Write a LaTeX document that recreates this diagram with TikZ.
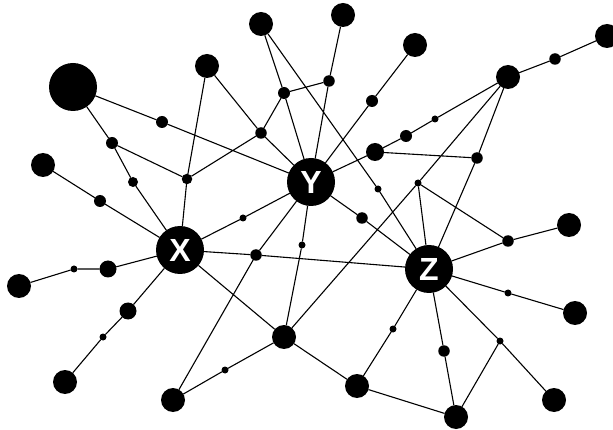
\documentclass[tikz,border=0pt]{standalone}
\usepackage{fontspec}
\setmainfont{Liberation Sans}
\newcommand{\hubtext}[1]{\fontsize{32}{32}\selectfont\bfseries #1}
\begin{document}
\begin{tikzpicture}[x=1pt,y=-1pt,
  dot/.style={circle,fill=black,inner sep=0pt,outer sep=0pt},
  hub/.style={dot,minimum size=48pt,text=white},
  huge/.style={dot,minimum size=48pt},
  large/.style={dot,minimum size=24pt},
  medium/.style={dot,minimum size=17pt},
  small/.style={dot,minimum size=11.5pt},
  tiny/.style={dot,minimum size=7pt},
  edge/.style={line width=1.1pt}]
\useasboundingbox (0,0) rectangle (613,430);
% hubs
\node[hub] (X) at (180,250) {\hubtext{X}};
\node[hub] (Y) at (311,182) {\hubtext{Y}};
\node[hub] (Z) at (429,269) {\hubtext{Z}};
% large nodes
\node[huge] (a) at (73,87) {};
\node[large] (b) at (207,66) {};
\node[large] (c) at (261,24) {};
\node[large] (d) at (43,165) {};
\node[large] (e) at (343,15) {};
\node[large] (f) at (415,45) {};
\node[large] (g) at (607,36) {};
\node[large] (h) at (508,77) {};
\node[medium,minimum size=18pt] (i) at (375,152) {};
\node[large] (j) at (19,286) {};
\node[large] (k) at (65,382) {};
\node[large] (l) at (173,400) {};
\node[large] (m) at (284,337) {};
\node[large] (n) at (357,386) {};
\node[large] (o) at (456,417) {};
\node[large] (p) at (554,400) {};
\node[large] (q) at (575,313) {};
\node[large] (r) at (569,225) {};
% medium
\node[medium] (m1) at (108,269) {};
\node[medium] (m2) at (128,311) {};
% small
\node[small,minimum size=12pt] (s1) at (162,122) {};
\node[small,minimum size=12pt] (s2) at (112,143) {};
\node[small,minimum size=10pt] (s3) at (133,182) {};
\node[small,minimum size=10.5pt] (s4) at (187,179) {};
\node[small] (s5) at (261,133) {};
\node[small,minimum size=12pt] (s6) at (284,93) {};
\node[small,minimum size=12pt] (s7) at (100,201) {};
\node[small] (s8) at (329,81) {};
\node[small,minimum size=12pt] (s9) at (372,101) {};
\node[small,minimum size=12pt] (s10) at (406,136) {};
\node[small] (s11) at (477,158) {};
\node[small] (s12) at (555,59) {};
\node[small] (s13) at (256,255) {};
\node[small] (s14) at (362,218) {};
\node[small] (s15) at (508,241) {};
\node[small] (s16) at (444,351) {};
% tiny
\node[tiny] (t1) at (435,119) {};
\node[tiny] (t2) at (418,183) {};
\node[tiny] (t3) at (378,189) {};
\node[tiny] (t4) at (74,269) {};
\node[tiny] (t5) at (103,337) {};
\node[tiny] (t6) at (243,218) {};
\node[tiny] (t7) at (302,245) {};
\node[tiny] (t8) at (225,370) {};
\node[tiny] (t9) at (508,293) {};
\node[tiny] (t10) at (393,329) {};
\node[tiny] (t11) at (500,341) {};
% edges
\draw[edge] (a) -- (s1) (s1) -- (Y) (a) -- (s2) (s2) -- (s3) (s3) -- (X)
  (s2) -- (s4) (s4) -- (s5) (s4) -- (X) (s4) -- (b) (b) -- (s5)
  (s5) -- (s6) (s5) -- (Y) (c) -- (s6) (c) -- (t3) (t3) -- (Z)
  (s6) -- (s8) (s6) -- (Y) (s8) -- (e) (s8) -- (Y) (f) -- (s9) (s9) -- (Y)
  (Y) -- (i) (i) -- (s10) (s10) -- (t1) (t1) -- (h) (i) -- (s11)
  (h) -- (s12) (s12) -- (g) (h) -- (t2) (t2) -- (m) (h) -- (s11) (s11) -- (Z)
  (t2) -- (Z) (t2) -- (s15) (Y) -- (s14) (s14) -- (Z) (Y) -- (t6) (t6) -- (X)
  (Y) -- (s13) (Y) -- (t7) (t7) -- (m) (X) -- (s13) (s13) -- (Z) (s13) -- (l)
  (X) -- (m) (m) -- (t8) (t8) -- (l) (m) -- (n)
  (X) -- (m1) (m1) -- (t4) (t4) -- (j) (X) -- (m2) (m2) -- (t5) (t5) -- (k)
  (X) -- (s7) (s7) -- (d)
  (Z) -- (s15) (s15) -- (r) (Z) -- (t9) (t9) -- (q) (Z) -- (t11) (t11) -- (p)
  (t11) -- (o) (Z) -- (s16) (s16) -- (o) (Z) -- (t10) (t10) -- (n) (n) -- (o);
\end{tikzpicture}
\end{document}
